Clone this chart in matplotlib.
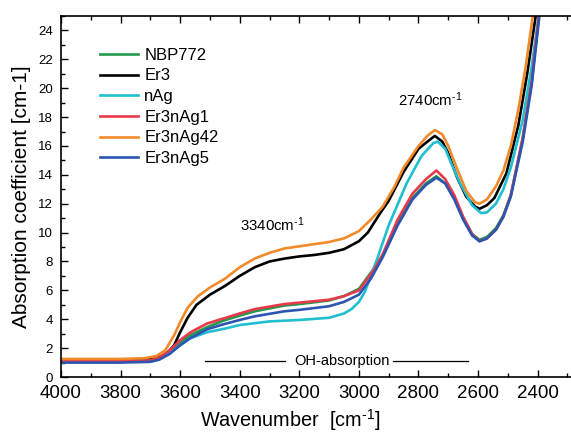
import matplotlib
matplotlib.use('Agg')
import matplotlib.pyplot as plt
from matplotlib.ticker import MultipleLocator

plt.rcParams['font.family'] = ['Liberation Sans', 'DejaVu Sans']
plt.rcParams['mathtext.fontset'] = 'custom'
plt.rcParams['mathtext.rm'] = 'Liberation Sans'
plt.rcParams['mathtext.it'] = 'Liberation Sans:italic'

# wavenumber / absorption pairs, one list per sample
nbp772_x = [4000, 3800, 3700, 3670, 3635, 3600, 3565, 3510, 3455, 3400, 3350, 3250, 3200, 3100, 3050, 3000,
            2950, 2920, 2870, 2820, 2775, 2740, 2710, 2680, 2650, 2620, 2595, 2570, 2540, 2515, 2490, 2450, 2420, 2395]
nbp772_y = [1.05, 1.05, 1.1, 1.3, 1.75, 2.4, 2.9, 3.45, 3.9, 4.25, 4.55, 4.95, 5.05, 5.3, 5.6, 6.1,
            7.5, 8.4, 10.6, 12.4, 13.4, 13.9, 13.4, 12.4, 11.0, 9.9, 9.5, 9.7, 10.3, 11.2, 12.6, 16.5, 20.4, 25.2]

er3_x = [4000, 3800, 3720, 3680, 3650, 3620, 3600, 3575, 3545, 3500, 3450, 3400, 3350, 3300, 3250, 3200, 3150, 3100,
         3050, 3000, 2970, 2930, 2900, 2850, 2800, 2770, 2745, 2720, 2700, 2670, 2640, 2610, 2595, 2570, 2545, 2505,
         2465, 2435, 2405]
er3_y = [1.2, 1.2, 1.25, 1.35, 1.5, 2.2, 3.1, 4.1, 5.0, 5.7, 6.3, 7.0, 7.6, 8.0, 8.2, 8.35, 8.45, 8.6,
         8.85, 9.4, 10.0, 11.3, 12.2, 14.2, 15.8, 16.3, 16.7, 16.3, 15.5, 13.8, 12.5, 11.8, 11.65, 11.9, 12.4, 14.1,
         17.4, 21.0, 25.2]

nag_x = [4000, 3800, 3700, 3670, 3640, 3600, 3570, 3510, 3450, 3400, 3300, 3200, 3100, 3050, 3025, 3000, 2980,
         2960, 2940, 2900, 2840, 2790, 2750, 2735, 2710, 2690, 2660, 2620, 2590, 2570, 2540, 2515, 2490, 2450, 2420,
         2395]
nag_y = [1.05, 1.05, 1.1, 1.25, 1.6, 2.2, 2.65, 3.1, 3.35, 3.6, 3.85, 3.95, 4.1, 4.4, 4.7, 5.2, 5.9,
         7.0, 8.1, 10.5, 13.4, 15.3, 16.2, 16.3, 15.8, 14.8, 13.4, 11.9, 11.35, 11.4, 12.0, 13.0, 14.5, 17.8, 21.5,
         25.2]

er3nag1_x = [4000, 3800, 3700, 3670, 3635, 3600, 3565, 3510, 3455, 3400, 3350, 3250, 3200, 3100, 3050, 3000,
             2950, 2920, 2870, 2820, 2775, 2740, 2710, 2680, 2650, 2620, 2595, 2570, 2540, 2515, 2490, 2450, 2420, 2395]
er3nag1_y = [1.1, 1.1, 1.15, 1.35, 1.85, 2.55, 3.1, 3.7, 4.05, 4.4, 4.7, 5.05, 5.15, 5.35, 5.6, 6.0,
             7.4, 8.5, 10.9, 12.7, 13.7, 14.3, 13.7, 12.6, 11.1, 9.9, 9.4, 9.6, 10.2, 11.1, 12.6, 16.6, 20.5, 25.2]

er3nag42_x = [4000, 3800, 3720, 3680, 3650, 3620, 3600, 3575, 3540, 3500, 3450, 3400, 3350, 3300, 3250, 3200, 3150,
              3100, 3050, 3000, 2960, 2920, 2880, 2850, 2800, 2770, 2745, 2720, 2700, 2670, 2640, 2610, 2595, 2570,
              2540, 2515, 2490, 2465, 2440, 2415]
er3nag42_y = [1.25, 1.25, 1.3, 1.45, 1.85, 2.9, 3.8, 4.8, 5.6, 6.2, 6.8, 7.6, 8.2, 8.6, 8.9, 9.05, 9.2,
              9.35, 9.6, 10.1, 10.9, 11.8, 13.2, 14.5, 16.0, 16.7, 17.1, 16.8, 16.0, 14.4, 12.9, 12.1, 12.0, 12.3,
              13.2, 14.3, 16.0, 18.5, 21.5, 25.2]

er3nag5_x = [4000, 3800, 3700, 3670, 3635, 3600, 3565, 3510, 3455, 3400, 3350, 3250, 3200, 3100, 3050, 3000,
             2960, 2920, 2870, 2820, 2775, 2740, 2710, 2680, 2650, 2620, 2595, 2570, 2540, 2515, 2490, 2450, 2420, 2393]
er3nag5_y = [1.0, 1.0, 1.05, 1.2, 1.6, 2.2, 2.7, 3.3, 3.65, 3.95, 4.2, 4.55, 4.65, 4.9, 5.2, 5.7,
             6.8, 8.3, 10.5, 12.3, 13.3, 13.8, 13.4, 12.3, 10.9, 9.8, 9.4, 9.6, 10.2, 11.1, 12.5, 16.3, 20.2, 25.2]

labels = ['NBP772', 'Er3', 'nAg', 'Er3nAg1', 'Er3nAg42', 'Er3nAg5']
colors = ['#219a4c', '#000000', '#1fbfd0', '#e8394a', '#f28a2a', '#2b55b0']

series = [(nbp772_x, nbp772_y), (er3_x, er3_y), (nag_x, nag_y),
          (er3nag1_x, er3nag1_y), (er3nag42_x, er3nag42_y), (er3nag5_x, er3nag5_y)]

fig = plt.figure(figsize=(5.71, 4.32), dpi=100)
ax = fig.add_axes([0.1068, 0.1273, 0.8932, 0.8357])

for (xs, ys), lab, col in zip(series, labels, colors):
    ax.plot(xs, ys, color=col, lw=1.9, label=lab)

# OH-absorption marker with the label in the middle
ax.plot([3517, 3248], [1.1, 1.1], color='black', lw=0.9)
ax.plot([2885, 2634], [1.1, 1.1], color='black', lw=0.9)
ax.text(3057, 1.1, 'OH-absorption', ha='center', va='center', fontsize=10.5)

sup = 'cm$^{\\text{-1}}$'
ax.text(2870, 19.2, '2740' + sup, ha='left', va='center', fontsize=10.8)
ax.text(3399, 10.55, '3340' + sup, ha='left', va='center', fontsize=10.8)

ax.set_xlim(4000, 2288)
ax.set_ylim(0, 25)
ax.xaxis.set_major_locator(MultipleLocator(200))
ax.xaxis.set_minor_locator(MultipleLocator(100))
ax.yaxis.set_major_locator(MultipleLocator(2))
ax.yaxis.set_minor_locator(MultipleLocator(1))
ax.tick_params(which='both', direction='in', top=True, right=False, width=1)
ax.tick_params(which='major', length=5)
ax.tick_params(which='minor', length=3)
ax.tick_params(axis='x', labelsize=13.5, pad=6)
ax.tick_params(axis='y', labelsize=9.5, pad=6)
ax.spines['right'].set_visible(False)
for s in ['left', 'bottom', 'top']:
    ax.spines[s].set_linewidth(1.2)

ax.set_xlabel('Wavenumber  [' + sup + ']', fontsize=14.3)
ax.xaxis.set_label_coords(0.449, -0.084)
ax.set_ylabel('Absorption coefficient [cm-1]', fontsize=15)
ax.yaxis.set_label_coords(-0.058, 0.5)

ax.legend(loc='upper left', bbox_to_anchor=(0.0765, 0.912), frameon=False, fontsize=12,
          handlelength=2.3, handletextpad=0.35, labelspacing=0.34, borderpad=0, borderaxespad=0)

fig.savefig('out.png', dpi=100)
